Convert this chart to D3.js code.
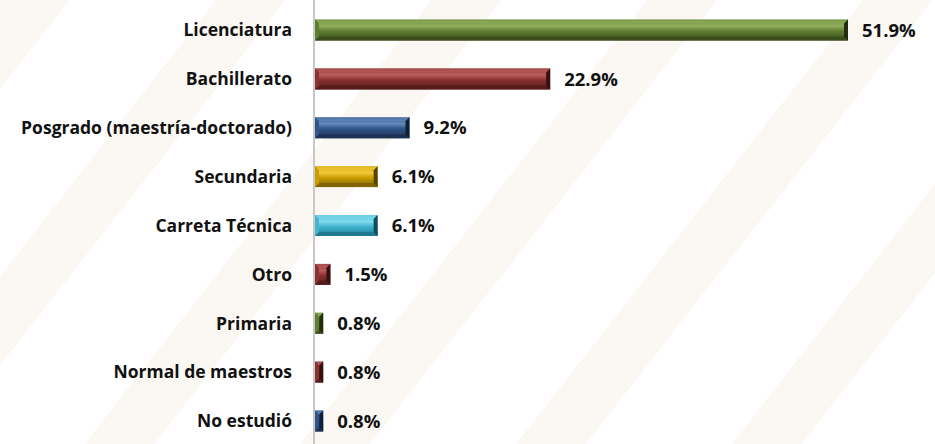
<!DOCTYPE html>
<html>
<head>
<meta charset="utf-8">
<script src="https://cdn.jsdelivr.net/npm/d3@7"></script>
<style>
  body { margin: 0; background: #fff; }
  svg { display: block; }
  text { font-family: "Open Sans", Lato, sans-serif; font-weight: bold; fill: #111; }
</style>
</head>
<body>
<div id="chart"></div>
<script>

// data
var categories = [ 'Licenciatura', 'Bachillerato', 'Posgrado (maestría-doctorado)', 'Secundaria',
                   'Carreta Técnica', 'Otro', 'Primaria', 'Normal de maestros', 'No estudió' ];
var values = [ 51.9, 22.9, 9.2, 6.1, 6.1, 1.5, 0.8, 0.8, 0.8 ];
var valueLabels = [ '51.9%', '22.9%', '9.2%', '6.1%', '6.1%', '1.5%', '0.8%', '0.8%', '0.8%' ];
var barColors = [ 'green', 'red', 'blue', 'yellow', 'cyan', 'red', 'green', 'red', 'blue' ];

var palette = {
    green:  { light: '#93b060', base: '#607e32', dark: '#3a4d1d', edge: '#222e0e' },
    red:    { light: '#bd5e5e', base: '#8a3131', dark: '#561c1c', edge: '#360f0f' },
    blue:   { light: '#658abd', base: '#305487', dark: '#1c3253', edge: '#0f1f38' },
    yellow: { light: '#f2cb3a', base: '#c99d02', dark: '#836400', edge: '#574200' },
    cyan:   { light: '#86dcee', base: '#42b5cf', dark: '#1d7890', edge: '#0e4c5c' }
};

var width = 935,
    height = 444,
    margin = { top: 0, right: 87, bottom: -7, left: 315 };

var x = d3.scaleLinear()
    .domain([ 0, 51.9 ])
    .range([ margin.left, width - margin.right ]);

var y = d3.scaleBand()
    .domain( categories )
    .range([ margin.top, height - margin.bottom ])
    .paddingInner( 0.571 )
    .paddingOuter( 0.4 );

var svg = d3.select('#chart').append('svg')
    .attr('width', width)
    .attr('height', height);

var defs = svg.append('defs');

// faint watermark stripes
var pat = defs.append('pattern')
    .attr('id', 'stripes')
    .attr('patternUnits', 'userSpaceOnUse')
    .attr('width', 170)
    .attr('height', 170)
    .attr('patternTransform', 'rotate(38)');

pat.append('rect')
    .attr('x', 0).attr('y', 0)
    .attr('width', 55).attr('height', 170)
    .style('fill', '#fbf8f3');

svg.append('rect')
    .attr('width', width)
    .attr('height', height)
    .style('fill', 'url(#stripes)');

// gradients for the bevel faces
Object.keys( palette ).forEach( function ( k ) {

    var c = palette[ k ];

    var grad = defs.append('linearGradient')
        .attr('id', 'face-' + k)
        .attr('x1', 0).attr('y1', 0)
        .attr('x2', 0).attr('y2', 1);

    grad.append('stop').attr('offset', '0%').attr('stop-color', c.base);
    grad.append('stop').attr('offset', '30%').attr('stop-color', c.light);
    grad.append('stop').attr('offset', '55%').attr('stop-color', c.base);
    grad.append('stop').attr('offset', '100%').attr('stop-color', c.dark);

});

// axis line
svg.append('line')
    .attr('x1', margin.left - 1)
    .attr('x2', margin.left - 1)
    .attr('y1', 0)
    .attr('y2', height)
    .style('stroke', '#c8c8c8')
    .style('stroke-width', 2);

// bars
var bevel = 4;

var bars = svg.selectAll('.bar')
    .data( values )
    .enter().append('g')
    .attr('class', 'bar');

bars.each( function ( d, i ) {

    var g = d3.select( this );
    var c = palette[ barColors[ i ] ];
    var x0 = x( 0 ), x1 = x( d ), y0 = y( categories[ i ] ), y1 = y0 + y.bandwidth();
    var b = Math.min( bevel, ( x1 - x0 ) / 2 );

    g.append('rect')
        .attr('x', x0)
        .attr('y', y0)
        .attr('width', x1 - x0)
        .attr('height', y1 - y0)
        .style('fill', 'url(#face-' + barColors[ i ] + ')');

    // top bevel
    g.append('polygon')
        .attr('points', [ [x0, y0], [x1, y0], [x1 - b, y0 + b], [x0 + b, y0 + b] ].join(' '))
        .style('fill', c.light)
        .style('opacity', 0.6);

    // bottom bevel
    g.append('polygon')
        .attr('points', [ [x0, y1], [x1, y1], [x1 - b, y1 - b], [x0 + b, y1 - b] ].join(' '))
        .style('fill', c.dark);

    // left bevel
    g.append('polygon')
        .attr('points', [ [x0, y0], [x0 + b, y0 + b], [x0 + b, y1 - b], [x0, y1] ].join(' '))
        .style('fill', c.base);

    // right bevel
    g.append('polygon')
        .attr('points', [ [x1, y0], [x1 - b, y0 + b], [x1 - b, y1 - b], [x1, y1] ].join(' '))
        .style('fill', c.edge);

});

// category labels
svg.selectAll('.cat')
    .data( categories )
    .enter().append('text')
    .attr('class', 'cat')
    .attr('x', 292)
    .attr('y', function ( d ) { return y( d ) + y.bandwidth() / 2; })
    .attr('dy', '0.36em')
    .attr('text-anchor', 'end')
    .style('font-size', '17.5px')
    .text( function ( d ) { return d; });

// value labels
svg.selectAll('.val')
    .data( values )
    .enter().append('text')
    .attr('class', 'val')
    .attr('x', function ( d ) { return x( d ) + 14; })
    .attr('y', function ( d, i ) { return y( categories[ i ] ) + y.bandwidth() / 2; })
    .attr('dy', '0.36em')
    .style('font-size', '18.5px')
    .text( function ( d, i ) { return valueLabels[ i ]; });

</script>
</body>
</html>
